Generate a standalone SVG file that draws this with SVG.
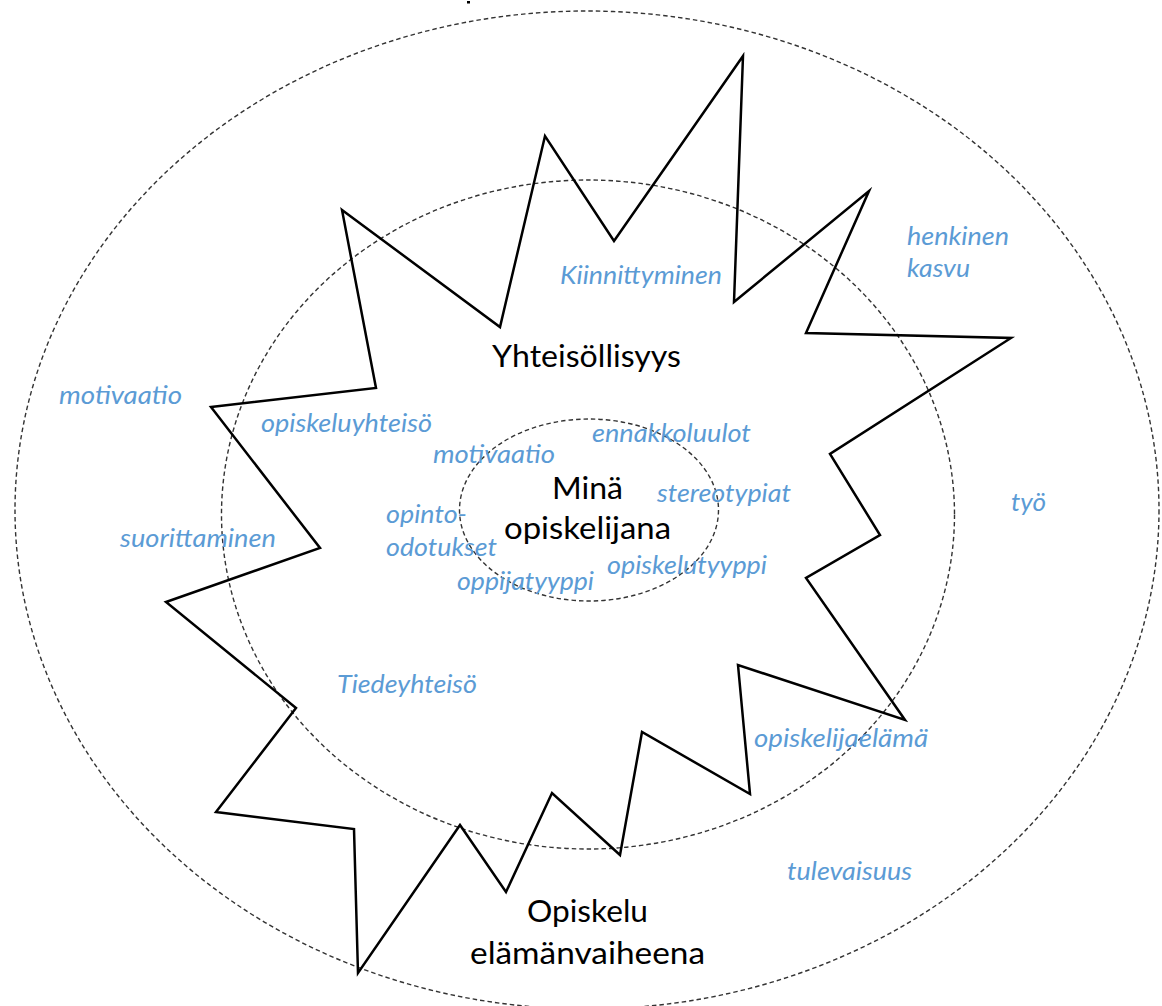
<svg xmlns="http://www.w3.org/2000/svg" width="1162" height="1006" viewBox="0 0 1162 1006">
  <style>
    .ring { fill: none; stroke: #333; stroke-width: 1.4; stroke-dasharray: 4.5 3; }
    .star { fill: none; stroke: #000; stroke-width: 2.5; stroke-linejoin: miter; stroke-miterlimit: 20; }
    .lbl { font-family: Lato, "Open Sans", "Liberation Sans", sans-serif; font-style: italic; font-size: 26px; fill: #5B9BD5; }
    .main { font-family: Lato, "Open Sans", "Liberation Sans", sans-serif; font-size: 31px; fill: #000; }
  </style>
  <rect x="0" y="0" width="1162" height="1006" fill="#fff"/>
  <rect x="467" y="1" width="3" height="2.5" fill="#000"/>

  <g id="rings">
    <ellipse id="outer" class="ring" cx="587" cy="510" rx="572" ry="499"/>
    <ellipse id="middle" class="ring" cx="588" cy="514.5" rx="366.5" ry="334.5"/>
    <ellipse id="inner" class="ring" cx="589" cy="510" rx="129.5" ry="91"/>
  </g>

  <g id="star">
    <polygon class="star" points="342,210 500,327 545,136 614,241 743,56 734,302 869,191 806,333 1011,338 830,454 880,535 806,578 905,720 738,665 750,794 642,732 620,855 552,793 506,892 460,825 358,973 354,829 216,812 296,708 166,602 320,548 211,407 376,388"/>
  </g>

  <g id="main-labels">
    <text class="main" x="492" y="367" textLength="189" lengthAdjust="spacingAndGlyphs">Yhteisöllisyys</text>
    <text class="main" x="552" y="499" textLength="71" lengthAdjust="spacingAndGlyphs">Minä</text>
    <text class="main" x="504" y="539" textLength="167" lengthAdjust="spacingAndGlyphs">opiskelijana</text>
    <text class="main" x="527" y="922" textLength="121" lengthAdjust="spacingAndGlyphs">Opiskelu</text>
    <text class="main" x="470" y="964" textLength="235" lengthAdjust="spacingAndGlyphs">elämänvaiheena</text>
  </g>

  <g id="topic-labels">
    <text class="lbl" x="560" y="284" textLength="162" lengthAdjust="spacingAndGlyphs">Kiinnittyminen</text>
    <text class="lbl" x="907" y="245" textLength="102" lengthAdjust="spacingAndGlyphs">henkinen</text>
    <text class="lbl" x="907" y="277" textLength="63" lengthAdjust="spacingAndGlyphs">kasvu</text>
    <text class="lbl" x="59" y="404" textLength="123" lengthAdjust="spacingAndGlyphs">motivaatio</text>
    <text class="lbl" x="261" y="432" textLength="171" lengthAdjust="spacingAndGlyphs">opiskeluyhteisö</text>
    <text class="lbl" x="433" y="463" textLength="122" lengthAdjust="spacingAndGlyphs">motivaatio</text>
    <text class="lbl" x="592" y="442" textLength="159" lengthAdjust="spacingAndGlyphs">ennakkoluulot</text>
    <text class="lbl" x="657" y="502" textLength="134" lengthAdjust="spacingAndGlyphs">stereotypiat</text>
    <text class="lbl" x="386" y="523" textLength="81" lengthAdjust="spacingAndGlyphs">opinto-</text>
    <text class="lbl" x="386" y="556" textLength="111" lengthAdjust="spacingAndGlyphs">odotukset</text>
    <text class="lbl" x="457" y="590" textLength="137" lengthAdjust="spacingAndGlyphs">oppijatyyppi</text>
    <text class="lbl" x="607" y="574" textLength="160" lengthAdjust="spacingAndGlyphs">opiskelutyyppi</text>
    <text class="lbl" x="120" y="547" textLength="156" lengthAdjust="spacingAndGlyphs">suorittaminen</text>
    <text class="lbl" x="337" y="693" textLength="140" lengthAdjust="spacingAndGlyphs">Tiedeyhteisö</text>
    <text class="lbl" x="1011" y="511" textLength="35" lengthAdjust="spacingAndGlyphs">työ</text>
    <text class="lbl" x="754" y="747" textLength="174" lengthAdjust="spacingAndGlyphs">opiskelijaelämä</text>
    <text class="lbl" x="787" y="880" textLength="125" lengthAdjust="spacingAndGlyphs">tulevaisuus</text>
  </g>
</svg>
